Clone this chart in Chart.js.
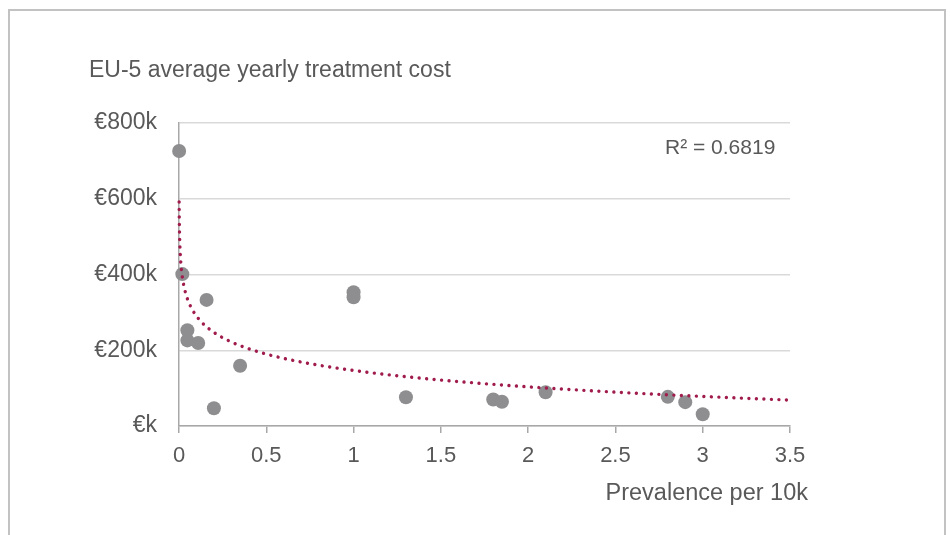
<!DOCTYPE html>
<html>
<head>
<meta charset="utf-8">
<script src="https://cdn.jsdelivr.net/npm/chart.js@4/dist/chart.umd.min.js"></script>
<style>
  html, body { margin: 0; padding: 0; background: #ffffff; }
  #wrap { position: relative; width: 950px; height: 535px; overflow: hidden; font-family: "Liberation Sans", Arial, sans-serif; color: #595959; }
  #frame { position: absolute; left: 8px; top: 9px; width: 938px; height: 560px; box-sizing: border-box; border: 2.5px solid #c2c2c2; border-bottom: none; }
  canvas { position: absolute; left: 0; top: 0; }
  .txt { position: absolute; white-space: nowrap; line-height: 1; }
  #title { left: 89px; top: 58px; font-size: 23px; }
  #xtitle { right: 142px; top: 481px; font-size: 23.5px; }
  #r2 { left: 665px; top: 136px; font-size: 21px; }
</style>
</head>
<body>
<div id="wrap">
  <div id="frame"></div>
  <canvas id="c" width="950" height="535"></canvas>
  <div class="txt" id="title">EU-5 average yearly treatment cost</div>
  <div class="txt" id="r2">R² = 0.6819</div>
  <div class="txt" id="xtitle">Prevalence per 10k</div>
</div>
<script>
// Data (prevalence per 10k, average yearly treatment cost in €k)
const prevalence = [0.0008, 0.019, 0.048, 0.048, 0.11, 0.158, 0.2, 0.35, 1.0, 1.0, 1.30, 1.80, 1.85, 2.10, 2.80, 2.90, 3.00];
const costK      = [726,    401,   253,   226,   219,  333,   47,  159,  353, 340, 76,   70,   64,   89,   77,   63,   31];
// Logarithmic trendline (Excel style): y = trendA + trendB * ln(x)
const trendA = 146.6;
const trendB = -62.4;
const trendXEnd = 3.5;
const yTicks = [0, 200, 400, 600, 800];
const xTicks = [0, 0.5, 1, 1.5, 2, 2.5, 3, 3.5];

const points = prevalence.map((x, i) => ({ x: x, y: costK[i] }));
const xStart = Math.min(...prevalence);
const trend = [];
const nSteps = 300;
for (let i = 0; i <= nSteps; i++) {
  const lx = Math.log(xStart) + (Math.log(trendXEnd) - Math.log(xStart)) * i / nSteps;
  const x = Math.exp(lx);
  trend.push({ x: x, y: trendA + trendB * Math.log(x) });
}

const gray = '#595959';
const axisColor = '#a8a8a8';
const fontX = { family: '"Liberation Sans", Arial, sans-serif', size: 22 };
const fontY = { family: '"Liberation Sans", Arial, sans-serif', size: 23 };

new Chart(document.getElementById('c'), {
  type: 'scatter',
  data: {
    datasets: [
      {
        label: 'Trend',
        data: trend,
        showLine: true,
        pointRadius: 0,
        borderColor: '#a01c4c',
        borderWidth: 3.4,
        borderDash: [0.01, 7.5],
        borderCapStyle: 'round',
        fill: false,
        tension: 0,
        clip: false,
        order: 0
      },
      {
        label: 'Cost',
        data: points,
        pointRadius: 7,
        pointBackgroundColor: '#8e8e90',
        pointBorderWidth: 0,
        borderWidth: 0,
        clip: false,
        order: 1
      }
    ]
  },
  options: {
    responsive: false,
    animation: false,
    devicePixelRatio: 1,
    layout: { padding: { left: 0, right: 160, top: 123, bottom: 0 } },
    plugins: { legend: { display: false }, tooltip: { enabled: false } },
    scales: {
      x: {
        type: 'linear',
        min: 0, max: 3.5,
        afterBuildTicks: (s) => { s.ticks = xTicks.map(v => ({ value: v })); },
        afterFit: (s) => { s.height = 109; },
        ticks: { color: gray, font: fontX, padding: 10, maxRotation: 0, callback: (v) => String(v) },
        grid: { drawOnChartArea: false, drawTicks: true, tickLength: 7, color: axisColor, lineWidth: 1.5 },
        border: { display: true, color: axisColor, width: 1.5 }
      },
      y: {
        type: 'linear',
        min: 0, max: 800,
        afterBuildTicks: (s) => { s.ticks = yTicks.map(v => ({ value: v })); },
        afterFit: (s) => { s.width = 179; },
        ticks: { color: gray, font: fontY, padding: 22, callback: (v) => v === 0 ? '€k' : '€' + v + 'k' },
        grid: { drawTicks: false, color: '#d9d9d9', lineWidth: 1.5 },
        border: { display: true, color: axisColor, width: 1.5 }
      }
    }
  }
});
</script>
</body>
</html>
